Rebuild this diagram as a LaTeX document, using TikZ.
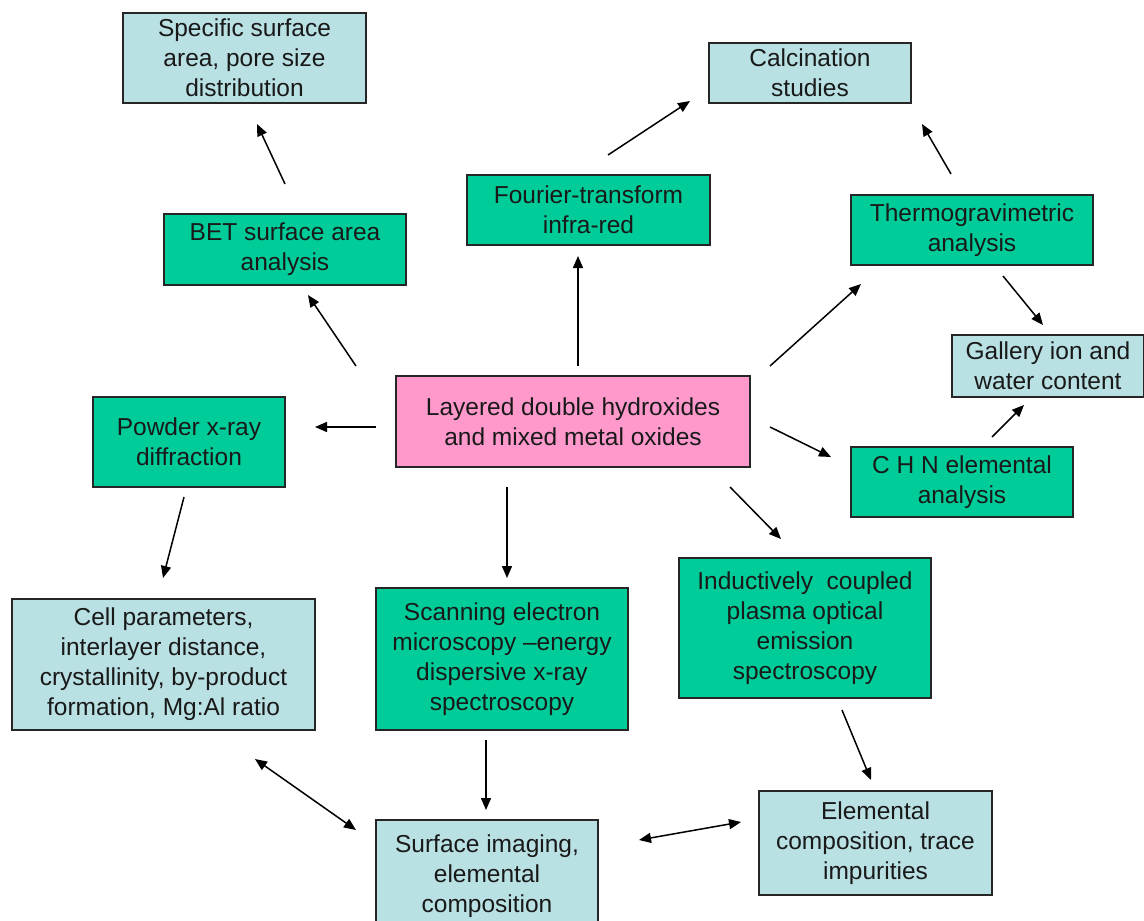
\documentclass[tikz,border=0pt]{standalone}
\usepackage{fontspec}
\setmainfont{Liberation Sans}
\usetikzlibrary{arrows.meta}
\definecolor{lbfill}{HTML}{B9E0E3}
\definecolor{grfill}{HTML}{00CC99}
\definecolor{pkfill}{HTML}{FF99CC}
\tikzset{
  box/.style={draw=black!85, line width=1.3pt, inner sep=0pt, align=center,
    font=\fontsize{24.5}{30}\selectfont, text=black!90},
  lb/.style={box, fill=lbfill},
  gr/.style={box, fill=grfill},
  pk/.style={box, fill=pkfill},
  arr/.style={line width=1.5pt, draw=black, -{Triangle[length=12pt,width=10pt]}},
  darr/.style={line width=1.5pt, draw=black, {Triangle[length=12pt,width=10pt]}-{Triangle[length=12pt,width=10pt]}}
}
\begin{document}
\begin{tikzpicture}[x=1pt,y=-1pt]
\useasboundingbox (0,0) rectangle (1144,921);
\clip (0,0) rectangle (1144,921);
\fill[white] (0,0) rectangle (1144,921);
% boxes
\node[lb, minimum width=243pt, minimum height=90pt] (ssa) at (244.5,58) {Specific surface\\area, pore size\\distribution};
\node[lb, minimum width=202pt, minimum height=60pt] (calc) at (810,73) {Calcination\\studies};
\node[gr, minimum width=242pt, minimum height=71pt] (bet) at (285,249.5) {BET surface area\\analysis};
\node[gr, minimum width=243pt, minimum height=70pt] (ftir) at (588.5,210) {Fourier-transform\\infra-red};
\node[gr, minimum width=242pt, minimum height=70pt] (tga) at (972,230) {Thermogravimetric\\analysis};
\node[lb, minimum width=192pt, minimum height=62pt] (gal) at (1048,366) {Gallery ion and\\water content};
\node[pk, minimum width=354pt, minimum height=91pt] (ldh) at (573,421.5) {Layered double hydroxides\\and mixed metal oxides};
\node[gr, minimum width=192pt, minimum height=90pt] (pxrd) at (189,442) {Powder x-ray\\diffraction};
\node[gr, minimum width=222pt, minimum height=70pt] (chn) at (962,482) {C H N elemental\\analysis};
\node[lb, minimum width=303pt, minimum height=131pt] (cell) at (163.5,664.5) {Cell parameters,\\interlayer distance,\\crystallinity, by-product\\formation, Mg:Al ratio};
\node[gr, minimum width=252pt, minimum height=142pt] (sem) at (502,659) {Scanning electron\\microscopy –energy\\dispersive x-ray\\spectroscopy};
\node[gr, minimum width=252pt, minimum height=140pt] (icp) at (805,628) {Inductively\ \ coupled\\plasma optical\\emission\\spectroscopy};
\node[lb, minimum width=233pt, minimum height=104pt] (elem) at (875.5,843) {Elemental\\composition, trace\\impurities};
\node[lb, minimum width=222pt, minimum height=112pt] (surf) at (487,876) {Surface imaging,\\elemental\\composition};
% connector end points
\coordinate (b1) at (285,184);  \coordinate (b2) at (257,124);
\coordinate (l1) at (356,366);  \coordinate (l2) at (308,295);
\coordinate (f1) at (608,155);  \coordinate (f2) at (690,101);
\coordinate (l3) at (578,366);  \coordinate (l4) at (578,256);
\coordinate (t1) at (951,174);  \coordinate (t2) at (922,124);
\coordinate (l5) at (770,366);  \coordinate (l6) at (861,284);
\coordinate (t3) at (1003,276); \coordinate (t4) at (1043,325);
\coordinate (c1) at (992,437);  \coordinate (c2) at (1024,405);
\coordinate (l7) at (376,427);  \coordinate (l8) at (315,427);
\coordinate (l9) at (770,427);  \coordinate (l10) at (831,457);
\coordinate (p1) at (184,497);  \coordinate (p2) at (163,578);
\coordinate (l11) at (507,487); \coordinate (l12) at (507,578);
\coordinate (l13) at (730,487); \coordinate (l14) at (781,539);
\coordinate (i1) at (842,710);  \coordinate (i2) at (871,780);
\coordinate (s1) at (486,740);  \coordinate (s2) at (486,810);
\coordinate (d1) at (255,759);  \coordinate (d2) at (356,830);
\coordinate (d3) at (639,840);  \coordinate (d4) at (741,822);
% connectors
\draw[arr] (b1) -- (b2);
\draw[arr] (l1) -- (l2);
\draw[arr] (f1) -- (f2);
\draw[arr] (l3) -- (l4);
\draw[arr] (t1) -- (t2);
\draw[arr] (l5) -- (l6);
\draw[arr] (t3) -- (t4);
\draw[arr] (c1) -- (c2);
\draw[arr] (l7) -- (l8);
\draw[arr] (l9) -- (l10);
\draw[arr] (p1) -- (p2);
\draw[arr] (l11) -- (l12);
\draw[arr] (l13) -- (l14);
\draw[arr] (i1) -- (i2);
\draw[arr] (s1) -- (s2);
\draw[darr] (d1) -- (d2);
\draw[darr] (d3) -- (d4);
\end{tikzpicture}
\end{document}
